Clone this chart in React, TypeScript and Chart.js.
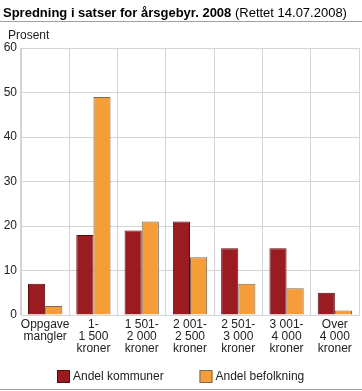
import React, { useEffect, useRef } from "react";
import { Chart, registerables } from "chart.js";

Chart.register(...registerables);

const categories: string[][] = [
  ["Oppgave", "mangler"],
  ["1-", "1 500", "kroner"],
  ["1 501-", "2 000", "kroner"],
  ["2 001-", "2 500", "kroner"],
  ["2 501-", "3 000", "kroner"],
  ["3 001-", "4 000", "kroner"],
  ["Over", "4 000", "kroner"],
];
const andelKommuner = [7, 18, 19, 21, 15, 15, 5];
const andelBefolkning = [2, 49, 21, 13, 7, 6, 1];
const seriesNames = ["Andel kommuner", "Andel befolkning"];
const titleBold = "Spredning i satser for årsgebyr. 2008";
const titleNormal = " (Rettet 14.07.2008)";
const yUnit = "Prosent";

const FONT = "'Liberation Sans', Arial, sans-serif";

const decorPlugin = {
  id: "decor",
  afterDraw(chart: any) {
    const ctx = chart.ctx;
    ctx.save();
    ctx.fillStyle = "#000";
    ctx.textBaseline = "alphabetic";
    ctx.textAlign = "left";
    ctx.font = `bold 13px ${FONT}`;
    ctx.fillText(titleBold, 3, 17);
    const w = ctx.measureText(titleBold).width;
    ctx.font = `13px ${FONT}`;
    ctx.fillText(titleNormal, 3 + w, 17);
    ctx.strokeStyle = "#a0a0a0";
    ctx.lineWidth = 1;
    ctx.beginPath();
    ctx.moveTo(0, 21.5);
    ctx.lineTo(362, 21.5);
    ctx.moveTo(0, 389.5);
    ctx.lineTo(362, 389.5);
    ctx.stroke();
    ctx.fillStyle = "#222";
    ctx.font = `12px ${FONT}`;
    ctx.fillText(yUnit, 8, 39);

    // legend
    const xs = [57, 199.5];
    chart.data.datasets.forEach((ds: any, i: number) => {
      const x = xs[i];
      ctx.fillStyle = ds.backgroundColor;
      ctx.fillRect(x, 370.5, 13, 12);
      ctx.strokeStyle = ds.borderColor;
      ctx.lineWidth = 1;
      ctx.strokeRect(x + 0.5, 370.5, 12, 12);
      ctx.fillStyle = "#222";
      ctx.font = `12px ${FONT}`;
      ctx.textBaseline = "middle";
      ctx.fillText(ds.label, x + 16, 377);
    });
    ctx.restore();
  },
};

export default function App() {
  const ref = useRef<HTMLCanvasElement>(null);
  useEffect(() => {
    document.body.style.margin = "0";
    const chart = new Chart(ref.current!, {
      type: "bar",
      data: {
        labels: categories as any,
        datasets: [
          {
            label: seriesNames[0],
            data: andelKommuner,
            backgroundColor: "#9a1c20",
            borderColor: "#5a0c0e",
            borderWidth: 1,
          },
          {
            label: seriesNames[1],
            data: andelBefolkning,
            backgroundColor: "#f59d38",
            borderColor: "#7a6a55",
            borderWidth: 1,
          },
        ],
      },
      options: {
        responsive: false,
        animation: false,
        layout: { padding: { top: 48, right: 3, left: 0, bottom: 29 } },
        datasets: {
          bar: { categoryPercentage: 0.71, barPercentage: 1.0 },
        } as any,
        scales: {
          x: {
            grid: { color: "#d4d4d4", lineWidth: 1, offset: true, drawTicks: false },
            border: { color: "#d4d4d4" },
            ticks: {
              color: "#222",
              font: { family: FONT, size: 12, lineHeight: 0.98 },
              padding: 4,
              maxRotation: 0,
              autoSkip: false,
            },
            afterFit: (s: any) => {
              s.height = 47;
            },
          },
          y: {
            min: 0,
            max: 60,
            grid: { color: "#d4d4d4", lineWidth: 1, drawTicks: false },
            border: { color: "#d4d4d4" },
            ticks: {
              stepSize: 10,
              color: "#222",
              font: { family: FONT, size: 12 },
              padding: 4,
            },
            afterFit: (s: any) => {
              s.width = 21;
            },
          },
        },
        plugins: {
          legend: { display: false },
          title: { display: false },
          tooltip: { enabled: false },
        },
      },
      plugins: [decorPlugin],
    });
    return () => chart.destroy();
  }, []);
  return <canvas ref={ref} width={362} height={391} style={{ display: "block" }} />;
}
